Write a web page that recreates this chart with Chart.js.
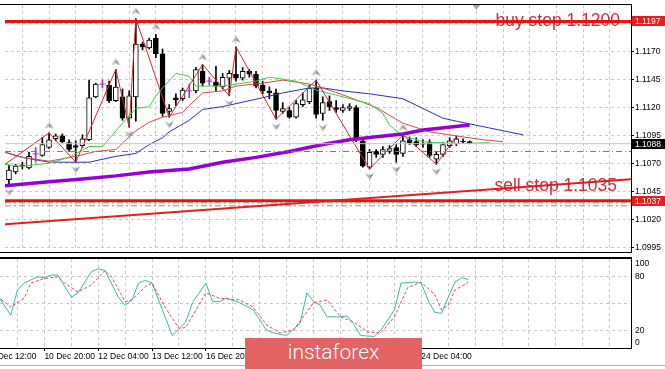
<!DOCTYPE html>
<html>
<head>
<meta charset="utf-8">
<script src="https://cdn.jsdelivr.net/npm/chart.js@4.4.0/dist/chart.umd.min.js"></script>
<style>
html, body { margin: 0; padding: 0; background: #fff; }
#wrap { position: relative; width: 665px; height: 369px; overflow: hidden; background: #fff; }
#mainBox { position: absolute; left: 0; top: 0; }
#stochBox { position: absolute; left: 0; top: 257px; }
#logo { position: absolute; left: 245px; top: 338px; width: 177px; height: 31px; background: #e36262;
        color: #fff; font: 300 21px Roboto, sans-serif; line-height: 29px; text-align: center; }
#stochChart { position: absolute; left: 0; top: 257px; }
#mainChart { position: absolute; left: 0; top: 0; }
</style>
</head>
<body>
<div id="wrap">
  <canvas id="mainChart" width="665" height="257"></canvas>
  <canvas id="stochChart" width="665" height="112"></canvas>
  <div id="logo">instaforex</div>
</div>
<script>
// EURUSD H4, bar 0 = 9 Dec 20:00
var opens  = [1.10558,1.10628,1.10689,1.10663,1.10790,1.10776,1.10846,1.10924,1.10950,1.10889,
              1.10863,1.10863,1.10915,1.11298,1.11412,1.11403,1.11264,1.11298,1.11107,1.11298,
              1.11769,1.11734,1.11821,1.11682,1.11168,1.11290,1.11281,1.11351,1.11351,1.11525,
              1.11438,1.11429,1.11386,1.11464,1.11499,1.11464,1.11525,1.11499,1.11403,1.11351,
              1.11333,1.11168,1.11176,1.11116,1.11229,1.11255,1.11377,1.11150,1.11255,1.11203,
              1.11176,1.11194,1.11203,1.10906,1.10671,1.10811,1.10785,1.10811,1.10846,1.10793,
              1.10915,1.10898,1.10880,1.10889,1.10741,1.10785,1.10863,1.10880,1.10902,1.10898];
var highs  = [1.10689,1.10697,1.10715,1.10802,1.10846,1.10933,1.10976,1.10967,1.10967,1.10915,
              1.10906,1.10959,1.11447,1.11420,1.11447,1.11438,1.11542,1.11368,1.11351,1.11995,
              1.11786,1.11821,1.11856,1.11725,1.11229,1.11325,1.11377,1.11412,1.11560,1.11586,
              1.11473,1.11569,1.11507,1.11534,1.11743,1.11560,1.11542,1.11525,1.11438,1.11386,
              1.11368,1.11246,1.11203,1.11264,1.11333,1.11403,1.11447,1.11298,1.11307,1.11264,
              1.11229,1.11237,1.11220,1.10924,1.10828,1.10828,1.10854,1.10863,1.10872,1.10959,
              1.10941,1.10933,1.10915,1.10915,1.10811,1.10889,1.10933,1.10946,1.10924,1.10906];
var lows   = [1.10515,1.10610,1.10654,1.10654,1.10715,1.10767,1.10837,1.10906,1.10889,1.10811,
              1.10715,1.10846,1.10906,1.11290,1.11377,1.11246,1.11255,1.11089,1.11028,1.11080,
              1.11717,1.11725,1.11647,1.11124,1.11116,1.11220,1.11264,1.11290,1.11333,1.11394,
              1.11403,1.11351,1.11368,1.11307,1.11438,1.11447,1.11473,1.11377,1.11325,1.11281,
              1.11098,1.11150,1.11107,1.11107,1.11211,1.11237,1.11107,1.11089,1.11176,1.11159,
              1.11159,1.11176,1.10898,1.10671,1.10654,1.10758,1.10758,1.10793,1.10715,1.10767,
              1.10872,1.10854,1.10846,1.10758,1.10697,1.10767,1.10846,1.10863,1.10880,1.10880];
var closes = [1.10645,1.10680,1.10680,1.10767,1.10790,1.10872,1.10915,1.10950,1.10898,1.10828,
              1.10846,1.10924,1.11290,1.11412,1.11412,1.11264,1.11386,1.11107,1.11307,1.11769,
              1.11743,1.11804,1.11682,1.11150,1.11194,1.11272,1.11359,1.11351,1.11542,1.11420,
              1.11438,1.11394,1.11473,1.11507,1.11464,1.11525,1.11499,1.11394,1.11351,1.11333,
              1.11176,1.11194,1.11116,1.11237,1.11272,1.11377,1.11142,1.11246,1.11211,1.11185,
              1.11203,1.11211,1.10915,1.10680,1.10802,1.10785,1.10828,1.10837,1.10785,1.10906,
              1.10889,1.10872,1.10875,1.10776,1.10785,1.10872,1.10906,1.10924,1.10898,1.10880];

// alligator lines (jaw shifted 8 bars, teeth 5, lips 3)
var jawBars   = [-1,2,6,12,16,19,21,23,24,27,29,32,34,38,41,45,47,50,54,59,62,65,67,72,77];
var jawValues = [1.10811,1.10758,1.10715,1.10715,1.10767,1.10793,1.10872,1.10933,1.10985,1.11089,
                 1.11185,1.11211,1.11237,1.11290,1.11333,1.11377,1.11377,1.11351,1.11325,1.11281,
                 1.11194,1.11107,1.11081,1.11020,1.10959];
var teethBars   = [-1,2,6,10,13,16,18,19,21,23,26,27,29,32,34,38,41,45,47,50,55,59,63,67,71,74];
var teethValues = [1.10811,1.10758,1.10724,1.10767,1.10811,1.10828,1.10941,1.10994,1.11072,1.11116,
                   1.11159,1.11220,1.11333,1.11351,1.11394,1.11420,1.11447,1.11412,1.11377,1.11316,
                   1.11203,1.11063,1.10985,1.10950,1.10915,1.10898];
var lipsBars   = [-1,2,6,9,12,14,17,19,21,22,23,25,27,28,32,37,39,43,46,50,54,56,57,59,62,67,72];
var lipsValues = [1.10697,1.10680,1.10706,1.10758,1.10854,1.10854,1.11063,1.11194,1.11211,1.11307,
                  1.11377,1.11507,1.11481,1.11394,1.11394,1.11438,1.11473,1.11438,1.11359,1.11298,
                  1.11237,1.11150,1.11046,1.10950,1.10898,1.10880,1.10889];
var slowMaBars   = [-1,6,11,16,21,27,32,37,42,47,51,55,59,62,69];
var slowMaValues = [1.10502,1.10541,1.10566,1.10593,1.10628,1.10654,1.10715,1.10758,1.10811,1.10872,
                    1.10915,1.10941,1.10967,1.11002,1.11046];

// zigzag: lead-in point, then alternating high / low bars
var zigzagStart = {bar: -3, value: 1.10593};
var zigzagBars  = [6,10,16,18,19,24,29,33,34,40,46,54,59,64,67];
var fractalUpBars   = [6,16,19,22,29,34,46,59];
var fractalDownBars = [0,10,18,24,33,40,47,54,58,64];

// objects
var buyStopLevel  = 1.1197;
var sellStopLevel = 1.1037;
var bidLevel      = 1.1088;
var entryLevel    = 1.1081;
var stopLevels    = [1.10352, 1.10326];
var trendBars     = [-0.6, 93.2];
var trendValues   = [1.10162, 1.10562];
var orderTexts    = ['buy stop 1.1200', 'sell stop 1.1035'];
var orderTextLevels = [1.1193, 1.1046];
var axisMarkLabels = ['1.1197', '1.1088', '1.1037'];
var axisMarkLevels = [1.1197, 1.1088, 1.1037];

// stochastic
var stochBars  = [-1,1,2,3,5,6,7,8,10,11,13,14,15,17,18,19,20,21,22,25,27,28,30,31,32,33,35,37,39,40,
                  42,44,45,46,47,48,50,51,52,53,55,56,58,59,61,62,63,64,65,66,67,68,69];
var stochMain  = [60,37,65,73,80,79,82,82,57,62,86,89,87,57,48,54,73,76,73,14,29,51,73,52,52,56,51,43,20,17,
                  14,28,62,52,48,35,35,36,26,14,13,20,43,73,74,73,54,40,39,57,74,79,77];
var signalBars   = [-1,1,3,4,6,8,9,11,13,15,16,18,19,21,22,24,26,27,30,32,35,37,39,41,43,46,48,50,52,54,
                    56,58,60,62,64,65,66,67,69];
var signalValues = [58,46,56,73,78,80,73,63,71,87,80,52,54,69,73,45,22,23,62,56,54,46,26,17,20,51,54,35,29,18,
                    17,35,68,74,60,43,48,65,74];
var stochLevels = [20, 50, 80];
var stochAxisValues = [100, 80, 20, 0];

// axes
var priceTicks = [1.0995, 1.1020, 1.1045, 1.1070, 1.1095, 1.1120, 1.1145, 1.1170, 1.1195];
var timeTickBars   = [-2, 6, 14, 22, 30, 38, 46, 54, 62];
var timeTickLabels = ['9 Dec 12:00', '10 Dec 20:00', '12 Dec 04:00', '13 Dec 12:00', '16 Dec 20:00',
                      '18 Dec 04:00', '19 Dec 12:00', '20 Dec 20:00', '24 Dec 04:00'];

var xMin = -0.594, xMax = 93.16;
var priceMin = 1.09914, priceMax = 1.12117;
var axisFont = {family: 'Liberation Sans', size: 8.5};

var gridBars = [];
for (var g = -2; g <= 90; g += 4) gridBars.push(g);

function pairs(bars, vals) {
    return bars.map(function (b, k) { return {x: b, y: vals[k]}; });
}
function hLine(level) {
    return [{x: xMin, y: level}, {x: xMax, y: level}];
}

// candles
var wickData = [], wickColors = [], bodyData = [], bodyColors = [], dojiData = [];
opens.forEach(function (o, i) {
    var doji = o === closes[i];
    wickData.push({x: i, y: [lows[i], highs[i]]});
    wickColors.push(doji ? '#9a3ad0' : '#000');
    if (doji) {
        dojiData.push({x: i, y: o});
    } else {
        bodyData.push({x: i, y: [o, closes[i]]});
        bodyColors.push(closes[i] > o ? '#fff' : '#000');
    }
});

var zigzagData = [{x: zigzagStart.bar, y: zigzagStart.value}];
zigzagBars.forEach(function (b, k) {
    zigzagData.push({x: b, y: k % 2 === 0 ? highs[b] : lows[b]});
});

function makeArrow(up) {
    var c = document.createElement('canvas');
    c.width = 11; c.height = 24;
    var a = c.getContext('2d');
    if (!up) { a.translate(0, 24); a.scale(1, -1); }
    a.beginPath();
    a.moveTo(5.5, 1); a.lineTo(10, 8); a.lineTo(5.5, 5.5); a.closePath();
    a.fillStyle = '#8a8a8a'; a.fill();
    a.beginPath();
    a.moveTo(5.5, 1); a.lineTo(1, 8); a.lineTo(5.5, 5.5); a.closePath();
    a.fillStyle = '#b4b4b4'; a.fill();
    return c;
}

function lineSet(data, color, width, order, dash) {
    return {type: 'line', data: data, borderColor: color, borderWidth: width, borderDash: dash || [],
            pointRadius: 0, tension: 0, fill: false, order: order};
}

var mainPlugin = {
    id: 'mainDecor',
    afterDatasetsDraw: function (chart) {
        var ctx = chart.ctx, y = chart.scales.y;
        ctx.save();
        ctx.font = '17.5px "Liberation Sans"';
        ctx.fillStyle = 'rgba(205,28,36,0.92)';
        ctx.textAlign = 'right';
        ctx.textBaseline = 'alphabetic';
        ctx.fillText(orderTexts[0], 620, y.getPixelForValue(orderTextLevels[0]));
        ctx.fillText(orderTexts[1], 617, y.getPixelForValue(orderTextLevels[1]));
        ctx.restore();
    },
    afterDraw: function (chart) {
        var ctx = chart.ctx, y = chart.scales.y, x = chart.scales.x, area = chart.chartArea;
        ctx.save();
        // pane frame
        ctx.strokeStyle = '#000';
        ctx.lineWidth = 1;
        ctx.beginPath();
        ctx.moveTo(0, area.top - 0.5); ctx.lineTo(area.right + 0.5, area.top - 0.5);
        ctx.lineTo(area.right + 0.5, area.bottom + 0.5); ctx.lineTo(0, area.bottom + 0.5);
        ctx.stroke();
        // chart shift marker
        var sx = x.getPixelForValue(opens.length);
        ctx.fillStyle = '#a0a0a0';
        ctx.beginPath();
        ctx.moveTo(sx - 3.5, area.top); ctx.lineTo(sx + 3.5, area.top); ctx.lineTo(sx, area.top + 5);
        ctx.closePath(); ctx.fill();
        // price marks on the axis
        ctx.font = '8.5px "Liberation Sans"';
        ctx.textBaseline = 'middle';
        ctx.textAlign = 'left';
        axisMarkLevels.forEach(function (lv, k) {
            var py = Math.round(y.getPixelForValue(lv));
            ctx.fillStyle = k === 1 ? '#000' : '#ec1c1c';
            ctx.fillRect(area.right + 1, py - 5, 33, 10);
            ctx.fillStyle = '#fff';
            ctx.fillText(axisMarkLabels[k], area.right + 4, py + 0.5);
        });
        ctx.restore();
    }
};

new Chart(document.getElementById('mainChart'), {
    type: 'line',
    data: {
        datasets: [
            {type: 'bar', data: wickData, backgroundColor: wickColors, barThickness: 1, grouped: false,
             borderWidth: 0, order: 30},
            {type: 'bar', data: bodyData, backgroundColor: bodyColors, borderColor: '#000', borderWidth: 1,
             borderSkipped: false, barThickness: 5, grouped: false, order: 29},
            {type: 'line', data: dojiData, showLine: false, pointStyle: 'line', pointRadius: 3,
             borderColor: '#9a3ad0', borderWidth: 1, order: 28},
            lineSet(pairs(jawBars, jawValues), '#2a2ac6', 1, 22),
            lineSet(pairs(teethBars, teethValues), '#d24a4a', 1, 21),
            lineSet(pairs(lipsBars, lipsValues), '#3fd03f', 1, 20),
            lineSet(pairs(slowMaBars, slowMaValues), '#9400d8', 3.5, 19),
            lineSet(zigzagData, '#d02828', 1, 18),
            {type: 'line', data: fractalUpBars.map(function (b) { return {x: b, y: highs[b]}; }),
             showLine: false, pointStyle: makeArrow(true), pointRadius: 4, order: 17},
            {type: 'line', data: fractalDownBars.map(function (b) { return {x: b, y: lows[b]}; }),
             showLine: false, pointStyle: makeArrow(false), pointRadius: 4, order: 17},
            lineSet(hLine(bidLevel), '#c4c4c4', 1, 16),
            lineSet(hLine(entryLevel), '#e8502a', 1, 15, [6, 3, 1, 3]),
            lineSet(hLine(stopLevels[0]), '#6cb06c', 1, 14, [6, 3, 2, 3]),
            lineSet(hLine(stopLevels[1]), '#7a9a7a', 1, 14, [6, 3, 2, 3]),
            lineSet(hLine(buyStopLevel), '#ec1010', 3, 12),
            lineSet(hLine(sellStopLevel), '#ec1010', 3, 12),
            lineSet(pairs(trendBars, trendValues), '#e41e1e', 2, 11)
        ]
    },
    options: {
        responsive: false,
        animation: false,
        events: [],
        layout: {padding: {top: 2, left: 0, right: 0, bottom: 2}},
        plugins: {legend: {display: false}, tooltip: {enabled: false}},
        scales: {
            x: {
                type: 'linear', min: xMin, max: xMax, offset: false,
                ticks: {display: false},
                grid: {color: '#c8c8c8', drawTicks: false, offset: false},
                border: {display: false, dash: [3, 3]},
                afterBuildTicks: function (s) { s.ticks = gridBars.map(function (v) { return {value: v}; }); },
                afterFit: function (s) { s.height = 0; s.paddingLeft = 0; s.paddingRight = 0; }
            },
            y: {
                type: 'linear', position: 'right', min: priceMin, max: priceMax,
                ticks: {font: axisFont, color: '#000', padding: 1, autoSkip: false,
                        callback: function (v) { return v.toFixed(4); }},
                grid: {color: '#c8c8c8', tickColor: '#000', tickLength: 3, tickBorderDash: []},
                border: {display: false, dash: [3, 3]},
                afterBuildTicks: function (s) { s.ticks = priceTicks.map(function (v) { return {value: v}; }); },
                afterFit: function (s) { s.width = 34; s.paddingTop = 0; s.paddingBottom = 0; }
            }
        }
    },
    plugins: [mainPlugin]
});

var stochPlugin = {
    id: 'stochDecor',
    afterDraw: function (chart) {
        var ctx = chart.ctx, y = chart.scales.y, area = chart.chartArea;
        ctx.save();
        ctx.strokeStyle = '#000';
        ctx.lineWidth = 2;
        ctx.beginPath();
        ctx.moveTo(0, area.top - 1); ctx.lineTo(area.right + 1, area.top - 1);
        ctx.stroke();
        ctx.lineWidth = 1;
        ctx.beginPath();
        ctx.moveTo(area.right + 0.5, area.top - 1); ctx.lineTo(area.right + 0.5, area.bottom + 0.5);
        ctx.lineTo(0, area.bottom + 0.5);
        ctx.stroke();
        // window edge at the bottom
        ctx.strokeStyle = '#b0b0b0';
        ctx.beginPath();
        ctx.moveTo(0, chart.height - 3.5); ctx.lineTo(chart.width, chart.height - 3.5);
        ctx.stroke();
        ctx.font = '8.5px "Liberation Sans"';
        ctx.fillStyle = '#000';
        ctx.textBaseline = 'middle';
        ctx.textAlign = 'left';
        stochAxisValues.forEach(function (v) {
            var py = Math.min(Math.max(y.getPixelForValue(v), area.top + 5), area.bottom - 5);
            ctx.fillText(String(v), area.right + 4, py);
        });
        ctx.restore();
    }
};

new Chart(document.getElementById('stochChart'), {
    type: 'line',
    data: {
        datasets: [
            lineSet(pairs(stochBars, stochMain), '#3cb4ac', 1, 2),
            lineSet(pairs(signalBars, signalValues), '#e04848', 1, 1, [3, 2])
        ]
    },
    options: {
        responsive: false,
        animation: false,
        events: [],
        layout: {padding: {top: 2, left: 0, right: 0, bottom: 0}},
        plugins: {legend: {display: false}, tooltip: {enabled: false}},
        scales: {
            x: {
                type: 'linear', min: xMin, max: xMax, offset: false,
                ticks: {font: axisFont, color: '#000', padding: 1, align: 'start', maxRotation: 0,
                        autoSkip: false,
                        callback: function (v) {
                            var k = timeTickBars.indexOf(v);
                            return k < 0 ? '' : timeTickLabels[k];
                        }},
                grid: {color: '#c8c8c8', tickLength: 3, tickBorderDash: [],
                       tickColor: function (c) { return timeTickBars.indexOf(c.tick.value) < 0 ? 'rgba(0,0,0,0)' : '#000'; }},
                border: {display: false, dash: [3, 3]},
                afterBuildTicks: function (s) { s.ticks = gridBars.map(function (v) { return {value: v}; }); },
                afterFit: function (s) { s.height = 21; s.paddingLeft = 0; s.paddingRight = 0; }
            },
            y: {
                type: 'linear', position: 'right', min: 0, max: 100,
                ticks: {display: false},
                grid: {color: '#c8c8c8', drawTicks: false},
                border: {display: false, dash: [3, 3]},
                afterBuildTicks: function (s) { s.ticks = stochLevels.map(function (v) { return {value: v}; }); },
                afterFit: function (s) { s.width = 34; s.paddingTop = 0; s.paddingBottom = 0; }
            }
        }
    },
    plugins: [stochPlugin]
});
</script>
</body>
</html>
